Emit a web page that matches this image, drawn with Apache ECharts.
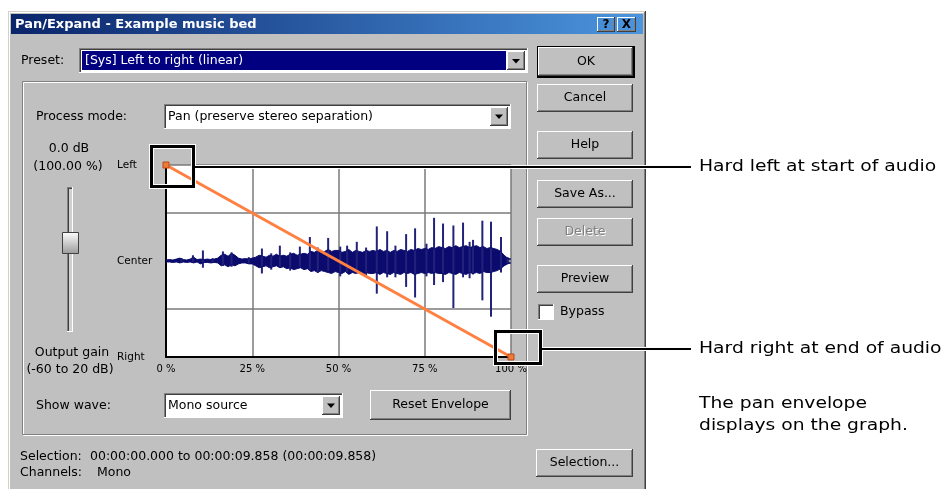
<!DOCTYPE html>
<html><head><meta charset="utf-8">
<script src="https://cdn.jsdelivr.net/npm/echarts@6/dist/echarts.min.js"></script>
<style>html,body{margin:0;padding:0;background:#fff}#c{width:944px;height:489px}</style>
</head><body><div id="c"></div>
<script>
// ---------- DATA ----------
const xTicks = [0, 25, 50, 75, 100];
const yTickNames = { '100': 'Left', '0': 'Center', '-100': 'Right' };
const envX = [0, 100];
const envY = [100, -100];
const waveX = [0, 1, 2, 3, 4, 5, 6, 7, 8, 9, 10, 11, 12, 13, 14, 15, 16, 17, 18, 19,
  20, 21, 22, 23, 24, 25, 26, 27, 28, 29, 30, 31, 32, 33, 34, 35, 36, 37, 38, 39,
  40, 41, 42, 43, 44, 45, 46, 47, 48, 49, 50, 51, 52, 53, 54, 55, 56, 57, 58, 59,
  60, 61, 62, 63, 64, 65, 66, 67, 68, 69, 70, 71, 72, 73, 74, 75, 76, 77, 78, 79,
  80, 81, 82, 83, 84, 85, 86, 87, 88, 89, 90, 91, 92, 93, 94, 95, 96, 97, 98, 99, 100];
const waveUp = [1, 1.5, 1, 2, 3, 1.5, 1, 2, 4, 1.5,
  2, 1.5, 2, 1.5, 2, 3, 6, 7, 5, 8,
  6, 3, 2, 2.5, 2, 3, 4, 6, 5, 4,
  6, 5, 7, 5, 6, 5, 7, 8, 6, 7,
  8, 7, 10, 9, 11, 9, 10, 12, 10, 11,
  11, 9, 10, 12, 9, 11, 10, 9, 11, 10,
  11, 10, 12, 10, 11, 9, 11, 10, 12, 11,
  10, 12, 11, 13, 12, 13, 12, 14, 13, 15,
  14, 13, 15, 14, 16, 14, 15, 16, 14, 15,
  16, 14, 15, 13, 14, 13, 12, 10, 6, 3, 2];
const waveDown = [1, 1, 1.5, 1, 2, 1, 1.5, 1, 2, 1,
  3, 1.5, 1.5, 2, 1.5, 2, 5, 4, 6, 4,
  5, 3, 2, 2, 3, 3, 5, 7, 6, 5,
  7, 6, 5, 7, 6, 8, 7, 9, 8, 7,
  9, 8, 11, 10, 12, 10, 11, 12, 13, 11,
  12, 13, 11, 14, 12, 13, 12, 14, 12, 13,
  13, 12, 14, 12, 13, 14, 12, 13, 14, 12,
  13, 12, 14, 13, 12, 13, 12, 13, 12, 13,
  13, 14, 12, 13, 14, 12, 13, 14, 12, 13,
  12, 13, 11, 12, 12, 11, 10, 8, 5, 3, 2];
const spikeX = [4.5, 7.8, 10.7, 13.5, 16.5, 19, 24, 27.8, 30.5, 33.0, 36, 38.8, 41.7, 44, 47.0, 50.5, 52.5, 55.3,
  58, 61.1, 64.1, 66.5, 69.6, 72.2, 75.5, 77.7, 80.3, 83.3, 86.1, 88, 89.0, 91.7, 94.2, 97.1, 99];
const spikeUp = [3, 6, 11, 3, 10, 9, 4, 13, 8, 16, 9, 15, 25, 14, 24, 15, 16, 20,
  14, 36, 31, 16, 28, 34, 18, 45, 39, 37, 40, 20, 22, 42, 41, 25, 4];
const spikeDown = [1, 2, 7, 2, 5, 6, 3, 13, 9, 6, 10, 6, 9, 12, 10, 16, 12, 9,
  15, 34, 17, 17, 27, 38, 16, 25, 22, 49, 17, 18, 14, 41, 58, 12, 3];

// ---------- HELPERS ----------
const F = "'DejaVu Sans', Verdana, sans-serif";
const NAVY = '#0b0b6e';
const FACE = '#c0c0c0';
const G = [];
function R(x, y, w, h, fill, z, stroke, lw) {
  G.push({ type: 'rect', silent: true, z: z == null ? -10 : z, shape: { x, y, width: w, height: h },
    style: { fill: fill || null, stroke: stroke || null, lineWidth: lw || 1 } });
}
function L(x1, y1, x2, y2, c, w, z) {
  G.push({ type: 'line', silent: true, z: z == null ? -9 : z, shape: { x1, y1, x2, y2 }, style: { stroke: c, lineWidth: w || 1 } });
}
function T(s, x, y, o) {
  o = o || {};
  const size = o.size || 12.5;
  G.push({ type: 'text', silent: true, z: o.z == null ? -8 : o.z, x, y, scaleX: o.sx || 1,
    style: { text: s, x: 0, y: 0, fill: o.c || '#000', font: (o.bold ? 'bold ' : '') + size + 'px ' + F,
      textAlign: o.a || 'left', align: o.a || 'left', textVerticalAlign: 'middle', verticalAlign: 'middle' } });
}
function tri(cx, cy) {
  G.push({ type: 'polygon', silent: true, z: -8, shape: { points: [[cx - 4, cy - 2], [cx + 4, cy - 2], [cx, cy + 2.5]] }, style: { fill: '#000' } });
}
function raised(x, y, w, h) {
  R(x, y, w, h, FACE);
  L(x, y + 0.5, x + w - 1, y + 0.5, '#fff');
  L(x + 0.5, y, x + 0.5, y + h - 1, '#fff');
  L(x, y + h - 0.5, x + w, y + h - 0.5, '#404040');
  L(x + w - 0.5, y, x + w - 0.5, y + h, '#404040');
  L(x + 1, y + h - 1.5, x + w - 1, y + h - 1.5, '#808080');
  L(x + w - 1.5, y + 1, x + w - 1.5, y + h - 1, '#808080');
}
function btn(x, y, w, h, label, opt) {
  opt = opt || {};
  if (opt.def) { R(x - 1, y - 1, w + 2, h + 2, '#000'); raised(x, y, w - 1, h - 1); }
  else raised(x, y, w, h);
  if (opt.dis) {
    T(label, x + w / 2 + 1, y + h / 2 + 1, { a: 'center', c: '#fff' });
    T(label, x + w / 2, y + h / 2, { a: 'center', c: '#808080' });
  } else T(label, x + w / 2, y + h / 2, { a: 'center' });
}
function sunk(x, y, w, h, fill) {
  R(x, y, w, h, fill);
  L(x, y + 0.5, x + w, y + 0.5, '#808080');
  L(x + 0.5, y, x + 0.5, y + h, '#808080');
  L(x + 1, y + 1.5, x + w - 1, y + 1.5, '#404040');
  L(x + 1.5, y + 1, x + 1.5, y + h - 1, '#404040');
  L(x, y + h - 0.5, x + w, y + h - 0.5, '#fff');
  L(x + w - 0.5, y, x + w - 0.5, y + h, '#fff');
}
function combo(x, y, w, h) {
  sunk(x, y, w, h, '#fff');
  raised(x + w - 21, y + 3, 18, h - 6);
  tri(x + w - 12, y + h / 2);
}

// ---------- DIALOG CHROME ----------
R(8, 11, 638, 482, FACE);
L(8, 11.5, 646, 11.5, '#d4d0c8'); L(8.5, 11, 8.5, 489, '#d4d0c8');
L(9, 12.5, 645, 12.5, '#fff'); L(9.5, 12, 9.5, 489, '#fff');
L(645.5, 11, 645.5, 489, '#404040'); L(644.5, 12, 644.5, 489, '#808080');
G.push({ type: 'rect', silent: true, z: -9, shape: { x: 11, y: 14, width: 632, height: 20 },
  style: { fill: new echarts.graphic.LinearGradient(0, 0, 1, 0, [{ offset: 0, color: '#0a246a' }, { offset: 1, color: '#4b95de' }]) } });
T('Pan/Expand - Example music bed', 15, 24.5, { bold: true, size: 13, c: '#fff' });
raised(597, 17, 18, 15); T('?', 606, 24.5, { a: 'center', bold: true, size: 12 });
raised(617, 17, 19, 15); T('X', 626.5, 24.5, { a: 'center', bold: true, size: 12 });

T('Preset:', 21, 61);
sunk(79, 48, 449, 25, '#fff');
R(82, 51, 424, 19, '#000080', -8);
T('[Sys] Left to right (linear)', 85, 61, { c: '#fff' });
raised(507, 51, 18, 19); tri(516, 61);

btn(538, 47, 96, 30, 'OK', { def: true });
btn(537, 84, 96, 28, 'Cancel');
btn(537, 131, 96, 28, 'Help');
btn(537, 180, 96, 28, 'Save As...');
btn(537, 218, 96, 28, 'Delete', { dis: true });
btn(537, 265, 96, 28, 'Preview');
sunk(538, 304, 16, 16, '#fff');
T('Bypass', 560, 312);
btn(536, 449, 97, 28, 'Selection...');

// group box (etched)
R(23.5, 82.5, 504, 353, null, -9, '#fff');
R(22.5, 81.5, 504, 353, null, -9, '#808080');

T('Process mode:', 36, 117);
combo(164, 104, 347, 25);
T('Pan (preserve stereo separation)', 168, 117);

T('0.0 dB', 69, 149, { a: 'center' });
T('(100.00 %)', 68, 167, { a: 'center' });
sunk(67, 187, 6, 145, '#d0d0d0');
G.push({ type: 'rect', silent: true, z: -8, shape: { x: 62.5, y: 232.5, width: 16, height: 21 },
  style: { stroke: '#404040', lineWidth: 1, fill: new echarts.graphic.LinearGradient(0, 0, 0, 1, [{ offset: 0, color: '#ffffff' }, { offset: 1, color: '#9a9a9a' }]) } });
T('Output gain', 72, 353, { a: 'center' });
T('(-60 to 20 dB)', 70, 370, { a: 'center' });

T('Show wave:', 36, 406);
combo(164, 393, 179, 25);
T('Mono source', 168, 406);
btn(370, 390, 141, 30, 'Reset Envelope');

T('Selection:', 20, 457);
T('00:00:00.000 to 00:00:09.858 (00:00:09.858)', 90, 457);
T('Channels:', 20, 473);
T('Mono', 97, 473);

// ---------- CALLOUTS ----------
function box(x, y, w, h) {
  R(x, y, w, h, null, 100, '#fff', 5);
  R(x, y, w, h, null, 101, '#000', 3);
}
function lead(x1, y, x2) {
  L(x1, y, x2, y, '#fff', 4, 100);
  L(x1, y, x2, y, '#000', 2, 101);
}
box(151.5, 146.5, 42, 40);
lead(195, 167, 691);
box(495.5, 331.5, 45, 32);
lead(542, 349, 691);
const CO = { size: 16, sx: 1.17, z: 102 };
T('Hard left at start of audio', 699, 167, CO);
T('Hard right at end of audio', 699, 349, CO);
T('The pan envelope', 699, 404, CO);
T('displays on the graph.', 699, 426, CO);

// ---------- CHART ----------
const chart = echarts.init(document.getElementById('c'), null, { renderer: 'canvas' });
const splitStyle = { color: '#7a7a7a', width: 1.5 };
chart.setOption({
  backgroundColor: '#fff',
  animation: false,
  grid: { left: 166, top: 165, width: 345, height: 192, show: true, backgroundColor: '#fff', borderWidth: 0 },
  xAxis: {
    type: 'value', min: xTicks[0], max: xTicks[xTicks.length - 1], interval: 25,
    axisLine: { show: true, onZero: false, lineStyle: { color: '#000', width: 2 } },
    axisTick: { show: false },
    splitLine: { show: true, lineStyle: splitStyle },
    axisLabel: { formatter: v => v + ' %', fontSize: 10, fontFamily: F, color: '#000', margin: 7, showMinLabel: true, showMaxLabel: true }
  },
  yAxis: {
    type: 'value', min: -100, max: 100, interval: 50,
    axisLine: { show: true, onZero: false, lineStyle: { color: '#000', width: 2 } },
    axisTick: { show: false },
    splitLine: { show: true, lineStyle: splitStyle },
    axisLabel: { formatter: v => yTickNames[String(v)] || '', align: 'left', margin: 49, fontSize: 10.5, fontFamily: F, color: '#000', padding: [0, 0, 5, 0], showMinLabel: true, showMaxLabel: true }
  },
  series: [
    { type: 'line', data: waveX.map((x, i) => [x, waveUp[i]]), symbol: 'none', z: 3,
      lineStyle: { color: NAVY, width: 1 }, areaStyle: { color: NAVY, opacity: 1, origin: 0 } },
    { type: 'line', data: waveX.map((x, i) => [x, -waveDown[i]]), symbol: 'none', z: 3,
      lineStyle: { color: NAVY, width: 1 }, areaStyle: { color: NAVY, opacity: 1, origin: 0 } },
    { type: 'custom', z: 3, data: spikeX.map((x, i) => [x, spikeUp[i], -spikeDown[i]]),
      encode: { x: 0, y: [1, 2] },
      renderItem: (p, api) => {
        const a = api.coord([api.value(0), api.value(1)]);
        const b = api.coord([api.value(0), api.value(2)]);
        return { type: 'line', shape: { x1: a[0], y1: a[1], x2: b[0], y2: b[1] }, style: { stroke: '#22227a', lineWidth: 2 } };
      } },
    { type: 'line', data: envX.map((x, i) => [x, envY[i]]), z: 5, clip: false,
      lineStyle: { color: '#ff8040', width: 3 }, symbol: 'rect', symbolSize: 6,
      itemStyle: { color: '#f07a3a', borderColor: '#b84a10', borderWidth: 1 } }
  ],
  graphic: { elements: G }
});
</script></body></html>
